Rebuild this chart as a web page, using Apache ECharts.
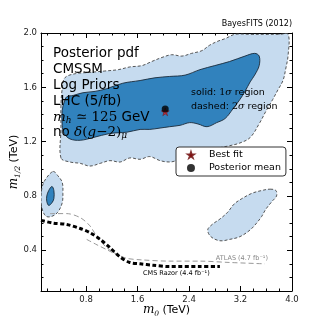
<!DOCTYPE html>
<html><head><meta charset="utf-8">
<script src="https://cdn.jsdelivr.net/npm/echarts@6/dist/echarts.min.js"></script>
<style>html,body{margin:0;padding:0;background:#fff}#c{width:324px;height:324px}</style>
</head><body><div id="c"></div>
<script>
// ---- tick values ----
const xMajorTicks = [0.8, 1.6, 2.4, 3.2, 4.0];
const yMajorTicks = [0.4, 0.8, 1.2, 1.6, 2.0];
const xMinorTicks = [0.2, 0.4, 0.6, 1.0, 1.2, 1.4, 1.8, 2.0, 2.2, 2.6, 2.8, 3.0, 3.4, 3.6, 3.8];
const yMinorTicks = [0.2, 0.3, 0.5, 0.6, 0.7, 0.9, 1.0, 1.1, 1.3, 1.4, 1.5, 1.7, 1.8, 1.9];

// ---- credible regions (m0, m1/2 in TeV) ----
const region2sigmaMain = [
  [0.41,1.08],[0.41,1.29],[0.41,1.47],[0.43,1.59],[0.47,1.67],[0.63,1.70],[0.86,1.71],[1.09,1.72],
  [1.30,1.73],[1.48,1.75],[1.67,1.76],[1.82,1.79],[1.98,1.82],[2.13,1.84],[2.29,1.83],[2.44,1.85],
  [2.60,1.87],[2.72,1.91],[2.85,1.94],[2.97,1.96],[3.11,1.99],[3.35,1.99],[3.58,1.99],[3.81,1.99],
  [3.94,1.99],[3.94,1.84],[3.90,1.73],[3.86,1.65],[3.78,1.58],[3.70,1.51],[3.59,1.42],[3.50,1.34],
  [3.35,1.23],[3.19,1.19],[3.03,1.17],[2.72,1.14],[2.41,1.10],[2.20,1.06],[2.10,1.05],[1.95,1.06],
  [1.79,1.09],[1.64,1.07],[1.48,1.08],[1.33,1.05],[1.17,1.06],[1.02,1.04],[0.86,1.02],[0.71,1.04],
  [0.55,1.05]
];
const region1sigmaMain = [
  [0.46,1.49],[0.50,1.53],[0.60,1.54],[0.75,1.56],[0.94,1.57],[1.12,1.59],[1.37,1.63],[1.64,1.65],
  [1.87,1.67],[2.10,1.68],[2.34,1.69],[2.57,1.73],[2.80,1.76],[3.03,1.79],[3.27,1.83],[3.42,1.85],
  [3.49,1.83],[3.49,1.76],[3.42,1.69],[3.35,1.64],[3.27,1.57],[3.19,1.51],[3.08,1.44],[2.96,1.37],
  [2.83,1.34],[2.68,1.31],[2.54,1.33],[2.41,1.34],[2.26,1.32],[2.10,1.31],[1.95,1.30],[1.79,1.29],
  [1.64,1.29],[1.44,1.27],[1.17,1.26],[0.91,1.23],[0.71,1.21],[0.55,1.22],[0.46,1.26],[0.43,1.32],
  [0.43,1.43]
];
const region2sigmaLeft = [
  [0.29,0.98],[0.36,0.95],[0.43,0.90],[0.44,0.82],[0.43,0.75],[0.36,0.68],[0.27,0.65],[0.18,0.65],
  [0.12,0.70],[0.10,0.78],[0.12,0.87],[0.18,0.93]
];
const region1sigmaLeft = [
  [0.27,0.87],[0.30,0.84],[0.30,0.78],[0.27,0.75],[0.22,0.73],[0.19,0.76],[0.19,0.80],[0.22,0.84]
];
const region2sigmaRight = [
  [3.66,0.85],[3.75,0.84],[3.76,0.80],[3.69,0.76],[3.59,0.70],[3.53,0.65],[3.45,0.60],[3.35,0.55],
  [3.19,0.50],[3.03,0.48],[2.88,0.47],[2.74,0.50],[2.69,0.55],[2.76,0.59],[2.88,0.63],[3.00,0.68],
  [3.10,0.74],[3.22,0.78],[3.38,0.82],[3.53,0.84]
];

// ---- exclusion limits ----
const cmsRazor = [
  [0.10,0.62],[0.29,0.60],[0.50,0.59],[0.71,0.56],[0.86,0.53],[1.02,0.48],[1.17,0.42],[1.33,0.35],
  [1.48,0.31],[1.64,0.30],[1.84,0.29],[2.10,0.28],[2.57,0.28],[2.88,0.28]
];
const atlas = [
  [0.24,0.67],[0.50,0.67],[0.71,0.64],[0.86,0.58],[0.97,0.50],[1.12,0.42],[1.28,0.37],[1.44,0.34],
  [1.64,0.33],[2.10,0.32],[2.57,0.32],[3.03,0.31],[3.58,0.30]
];
const atlasLower = [[0.81,0.48],[0.97,0.44],[1.14,0.40],[1.30,0.36]];

// ---- points ----
const bestFit = [[2.03,1.42]];
const posteriorMean = [[2.03,1.44]];

const FONT = 'DejaVu Sans';
const SERIF = 'DejaVu Serif';
const starPath = 'path://M50,0 L61,35 L98,35 L68,57 L79,91 L50,70 L21,91 L32,57 L2,35 L39,35 Z';
const starLegendPath = 'path://M-20,-25 M120,116 M50,0 L61,35 L98,35 L68,57 L79,91 L50,70 L21,91 L32,57 L2,35 L39,35 Z';

function poly(points, fill, stroke, dash, z) {
  return {
    type: 'custom', coordinateSystem: 'cartesian2d', xAxisIndex: 0, yAxisIndex: 0,
    silent: true, z: z, clip: true,
    data: [points[0]],
    renderItem: function (params, api) {
      const pts = points.map(p => api.coord(p));
      return {type: 'polygon', shape: {points: pts, smooth: 0.35},
        style: {fill: fill, stroke: stroke, lineWidth: 0.9, lineDash: dash}};
    }
  };
}

function xAx(pos, ticks, len, showLine, showLabel) {
  return {
    type: 'value', min: 0.1, max: 4.0, position: pos,
    axisLine: {show: showLine, onZero: false, lineStyle: {color: '#000', width: 1}},
    axisTick: {show: true, inside: true, length: len, customValues: ticks, lineStyle: {color: '#000', width: 1}},
    axisLabel: showLabel ? {customValues: ticks, formatter: v => v.toFixed(1), fontSize: 8.5, color: '#222', margin: 4, fontFamily: FONT} : {show: false},
    splitLine: {show: false}
  };
}
function yAx(pos, ticks, len, showLine, showLabel) {
  return {
    type: 'value', min: 0.1, max: 2.0, position: pos,
    axisLine: {show: showLine, onZero: false, lineStyle: {color: '#000', width: 1}},
    axisTick: {show: true, inside: true, length: len, customValues: ticks, lineStyle: {color: '#000', width: 1}},
    axisLabel: showLabel ? {customValues: ticks, formatter: v => v.toFixed(1), fontSize: 8.5, color: '#222', margin: 4, fontFamily: FONT} : {show: false},
    splitLine: {show: false}
  };
}

const nameRich = {
  i: {fontFamily: SERIF, fontStyle: 'italic', fontSize: 12, lineHeight: 16, color: '#000'},
  s: {fontFamily: SERIF, fontStyle: 'italic', fontSize: 7.5, lineHeight: 8, verticalAlign: 'bottom', color: '#000'},
  t: {fontFamily: FONT, fontSize: 11, lineHeight: 16, color: '#000'}
};
const xMain = xAx('bottom', xMajorTicks, 5, true, true);
xMain.name = '{i|m}{s|0} {t|(TeV)}';
xMain.nameLocation = 'middle';
xMain.nameGap = 11;
xMain.nameMoveOverlap = false;
xMain.nameTextStyle = {rich: nameRich};
const yMain = yAx('left', yMajorTicks, 5, true, true);
yMain.name = '{i|m}{s|1/2} {t|(TeV)}';
yMain.nameLocation = 'middle';
yMain.nameGap = 19;
yMain.nameRotate = 90;
yMain.nameMoveOverlap = false;
yMain.nameTextStyle = {rich: nameRich};

const mathRich = {
  it: {fontFamily: SERIF, fontStyle: 'italic', fontSize: 13.5, lineHeight: 17, color: '#000'},
  rm: {fontFamily: SERIF, fontSize: 13.5, lineHeight: 17, color: '#000'},
  sf: {fontFamily: FONT, fontSize: 13.5, lineHeight: 17, color: '#000'},
  sub: {fontFamily: SERIF, fontStyle: 'italic', fontSize: 9, lineHeight: 9, verticalAlign: 'bottom', color: '#000'}
};
const smallRich = {
  sf: {fontFamily: FONT, fontSize: 9.5, color: '#000'},
  it: {fontFamily: SERIF, fontStyle: 'italic', fontSize: 9.5, color: '#000'},
  rm: {fontFamily: SERIF, fontSize: 9.5, color: '#000'}
};
function txt(x, y, text, size, rich, color, align) {
  return {type: 'text', x: x, y: y, z: 10, silent: true,
    style: {text: text, fontFamily: FONT, fontSize: size, fill: color || '#000', align: align || 'left', verticalAlign: 'middle', rich: rich || undefined}};
}

const chart = echarts.init(document.getElementById('c'), null, {renderer: 'canvas'});
chart.setOption({
  animation: false,
  backgroundColor: '#fff',
  grid: {left: 41, right: 32, top: 33, bottom: 33, containLabel: false, outerBoundsMode: 'none'},
  xAxis: [xMain, xAx('bottom', xMinorTicks, 2.5, false, false), xAx('top', xMajorTicks, 5, true, false), xAx('top', xMinorTicks, 2.5, false, false)],
  yAxis: [yMain, yAx('left', yMinorTicks, 2.5, false, false), yAx('right', yMajorTicks, 5, true, false), yAx('right', yMinorTicks, 2.5, false, false)],
  legend: {
    data: [{name: 'Best fit', icon: starLegendPath}, {name: 'Posterior mean', icon: 'circle'}],
    orient: 'vertical', left: 176, top: 147, itemWidth: 8, itemHeight: 8, itemGap: 3,
    symbolKeepAspect: true,
    padding: [3, 5, 3, 10], borderColor: '#333', borderWidth: 1, borderRadius: 3, backgroundColor: '#fff',
    textStyle: {fontSize: 9.5, color: '#000', fontFamily: FONT, padding: [0, 0, 0, 9]}, selectedMode: false
  },
  graphic: [
    txt(292, 24, 'BayesFITS (2012)', 8, null, '#000', 'right'),
    txt(53, 53, 'Posterior pdf', 13.5),
    txt(53, 69, 'CMSSM', 13.5),
    txt(53, 85, 'Log Priors', 13.5),
    txt(53, 101, 'LHC (5/fb)', 13.5),
    txt(53, 117, '{it|m}{sub|h}{rm| ≃ 125}{sf| GeV}', 13.5, mathRich),
    txt(53, 132, '{sf|no }{it|δ}{rm|(}{it|g}{rm|−2)}{sub|μ}', 13.5, mathRich),
    txt(191, 93, '{sf|solid: }{rm|1}{it|σ}{sf| region}', 9.5, smallRich),
    txt(191, 107, '{sf|dashed: }{rm|2}{it|σ}{sf| region}', 9.5, smallRich),
    txt(268, 258, 'ATLAS (4.7 fb⁻¹)', 6.5, null, '#888', 'right'),
    txt(143, 273, 'CMS Razor (4.4 fb⁻¹)', 6.5)
  ],
  series: [
    poly(region2sigmaMain, '#c6dbef', '#444', [3, 2], 1),
    poly(region2sigmaLeft, '#c6dbef', '#444', [3, 2], 1),
    poly(region2sigmaRight, '#c6dbef', '#444', [3, 2], 1),
    poly(region1sigmaMain, '#3182bd', '#1a2a3a', null, 2),
    poly(region1sigmaLeft, '#3182bd', '#1a2a3a', null, 2),
    {type: 'line', name: 'ATLAS', data: atlas, showSymbol: false, smooth: 0.3, silent: true, z: 3,
      lineStyle: {color: '#999', width: 1, type: [5, 3]}},
    {type: 'line', name: 'ATLAS2', data: atlasLower, showSymbol: false, smooth: 0.3, silent: true, z: 3,
      lineStyle: {color: '#999', width: 1, type: [5, 3]}},
    {type: 'line', name: 'CMS Razor', data: cmsRazor, showSymbol: false, smooth: 0.3, silent: true, z: 3,
      lineStyle: {color: '#000', width: 3, type: [4, 2.5]}},
    {type: 'scatter', name: 'Best fit', data: bestFit, symbol: starPath, symbolSize: 8, z: 5,
      itemStyle: {color: '#d62020', borderColor: '#600', borderWidth: 0.5}},
    {type: 'scatter', name: 'Posterior mean', data: posteriorMean, symbol: 'circle', symbolSize: 7, z: 6,
      itemStyle: {color: '#000'}}
  ]
});
</script>
</body></html>
